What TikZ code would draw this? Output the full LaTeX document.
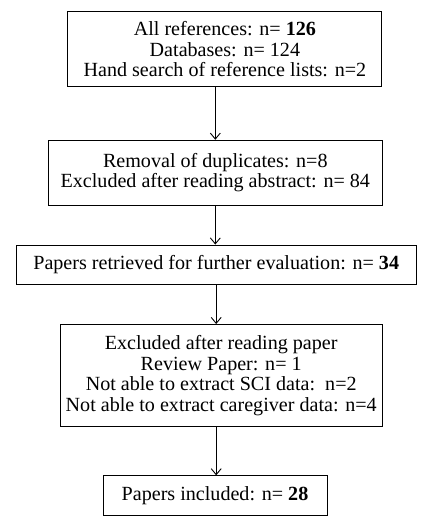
\documentclass[tikz,border=0pt]{standalone}
\usepackage{fontspec}
\setmainfont{Liberation Serif}
\usetikzlibrary{arrows.meta}
\tikzset{
  stagebox/.style={draw, line width=0.9pt, align=center, inner sep=0pt,
    font=\fontsize{20.1}{20.6}\selectfont},
}
\begin{document}
\begin{tikzpicture}[x=1pt, y=-1pt, >={Straight Barb[length=6pt,width=10pt]}]
  \useasboundingbox (0,0) rectangle (430,528);
  \node (refs) at (224.9,49.3) [stagebox, minimum width=314pt, minimum height=75pt]
    {All references: n= \textbf{126}\\Databases: n= 124\\Hand search of reference lists: n=2};
  \node (dups) at (215.3,172.7) [stagebox, minimum width=334pt, minimum height=65pt]
    {Removal of duplicates: n=8\\Excluded after reading abstract: n= 84};
  \node (retr) at (216.2,264.5) [stagebox, minimum width=400pt, minimum height=39pt]
    {Papers retrieved for further evaluation: n= \textbf{34}};
  \node (excl) at (221.2,375.5) [stagebox, minimum width=322pt, minimum height=102pt]
    {Excluded after reading paper\\Review Paper: n= 1\\Not able to extract SCI data:\ \ n=2\\Not able to extract caregiver data: n=4};
  \node (incl) at (215,495.8) [stagebox, minimum width=224pt, minimum height=40pt]
    {Papers included: n= \textbf{28}};
  \draw[->, line width=0.9pt] (refs.south -| dups.north) -- (dups.north);
  \draw[->, line width=0.9pt] (dups.south) -- (retr.north -| dups.south);
  \draw[->, line width=0.9pt] (retr.south) -- (excl.north -| retr.south);
  \draw[->, line width=0.9pt] (excl.south -| retr.south) -- (incl.north -| retr.south);
\end{tikzpicture}
\end{document}
